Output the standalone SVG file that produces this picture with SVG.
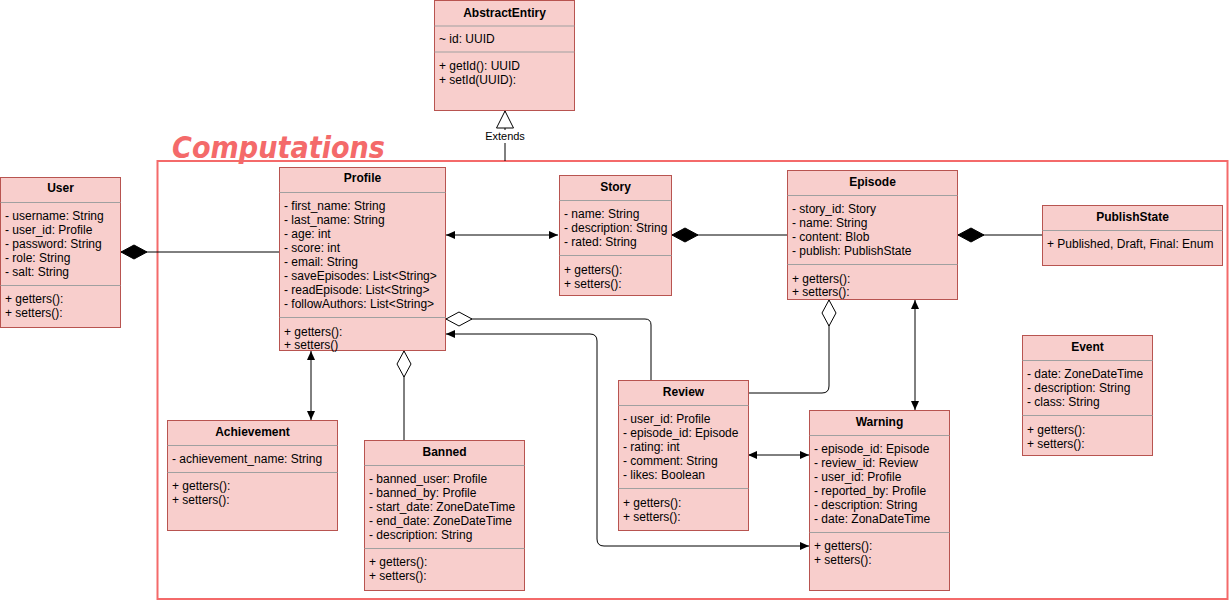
<svg xmlns="http://www.w3.org/2000/svg" width="1232" height="602" viewBox="0 0 1232 602">
<style>
.box{fill:#f8cecc;stroke:#b85450;stroke-width:1}
.sep{stroke:#a0a0a0;stroke-width:1}
text{font-family:"Liberation Sans",Arial,Helvetica,sans-serif;font-size:12px;fill:#000}
.h{font-weight:bold;text-anchor:middle}
.c{fill:none;stroke:#000;stroke-width:1}
.frame{fill:none;stroke:#f46a6a;stroke-width:2}
.title{font-family:"DejaVu Sans",sans-serif;font-size:30px;font-weight:bold;font-style:italic;fill:#f46a6a}
</style>
<defs>
<marker id="arr" viewBox="0 0 9 8" refX="9" refY="4" markerWidth="9" markerHeight="8" markerUnits="userSpaceOnUse" orient="auto-start-reverse"><path d="M0,0 L9,4 L0,8 z" fill="#000"/></marker>
<marker id="dFill" viewBox="-1 -1 28 16" refX="0" refY="7" markerWidth="28" markerHeight="16" markerUnits="userSpaceOnUse" orient="auto"><path d="M0,7 L13,0 L26,7 L13,14 z" fill="#000" stroke="#000"/></marker>
<marker id="dOpen" viewBox="-1 -1 28 16" refX="0" refY="7" markerWidth="28" markerHeight="16" markerUnits="userSpaceOnUse" orient="auto"><path d="M0,7 L13,0 L26,7 L13,14 z" fill="#fff" stroke="#000"/></marker>
<marker id="tri" viewBox="-1 -1 19 19" refX="17" refY="8.5" markerWidth="19" markerHeight="19" markerUnits="userSpaceOnUse" orient="auto"><path d="M0,0 L17,8.5 L0,17 z" fill="#fff" stroke="#000"/></marker>
</defs>

<g id="computations">
<rect class="frame" x="157.5" y="161" width="1070" height="438"/>
<text class="title" x="172" y="158" textLength="213" lengthAdjust="spacingAndGlyphs">Computations</text>
</g>

<g id="connectors">
<path class="c" d="M505,161 L505,111" marker-end="url(#tri)"/>
<rect x="483" y="130" width="44" height="13" fill="#fff"/>
<text x="505" y="140" text-anchor="middle" style="font-size:11px">Extends</text>
<path class="c" d="M121,252 L279,252" marker-start="url(#dFill)"/>
<path class="c" d="M446,235 L558,235" marker-start="url(#arr)" marker-end="url(#arr)"/>
<path class="c" d="M672,235 L787,235" marker-start="url(#dFill)"/>
<path class="c" d="M958,235 L1042,235" marker-start="url(#dFill)"/>
<path class="c" d="M446,319 L645,319 Q651,319 651,325 L651,380" marker-start="url(#dOpen)"/>
<path class="c" d="M446,334 L590,334 Q597,334 597,341 L597,539 Q597,546 604,546 L809,546" marker-start="url(#arr)" marker-end="url(#arr)"/>
<path class="c" d="M311,351 L311,420" marker-start="url(#arr)" marker-end="url(#arr)"/>
<path class="c" d="M404,351 L404,440" marker-start="url(#dOpen)"/>
<path class="c" d="M829,300 L829,386 Q829,393 822,393 L748,393" marker-start="url(#dOpen)"/>
<path class="c" d="M915,300 L915,410" marker-start="url(#arr)" marker-end="url(#arr)"/>
<path class="c" d="M748,455 L809,455" marker-start="url(#arr)" marker-end="url(#arr)"/>
</g>

<g id="AbstractEntiry">
<rect class="box" x="434.5" y="0.5" width="140" height="110"/>
<line class="sep" x1="434.5" y1="26" x2="574.5" y2="26"/>
<line class="sep" x1="434.5" y1="52" x2="574.5" y2="52"/>
<text class="h" x="504.5" y="17">AbstractEntiry</text>
<text x="439" y="43">~ id: UUID</text>
<text x="439" y="70">+ getId(): UUID</text>
<text x="439" y="84">+ setId(UUID):</text>
</g>

<g id="User">
<rect class="box" x="0.5" y="177.5" width="120" height="150"/>
<line class="sep" x1="0.5" y1="202.5" x2="120.5" y2="202.5"/>
<line class="sep" x1="0.5" y1="285.5" x2="120.5" y2="285.5"/>
<text class="h" x="60.5" y="192">User</text>
<text x="5" y="220">- username: String</text>
<text x="5" y="234">- user_id: Profile</text>
<text x="5" y="248">- password: String</text>
<text x="5" y="262">- role: String</text>
<text x="5" y="276">- salt: String</text>
<text x="5" y="303">+ getters():</text>
<text x="5" y="317">+ setters():</text>
</g>

<g id="Profile">
<rect class="box" x="279.5" y="167.5" width="166" height="183"/>
<line class="sep" x1="279.5" y1="192.5" x2="445.5" y2="192.5"/>
<line class="sep" x1="279.5" y1="317.5" x2="445.5" y2="317.5"/>
<text class="h" x="362.5" y="182">Profile</text>
<text x="284" y="210">- first_name: String</text>
<text x="284" y="224">- last_name: String</text>
<text x="284" y="238">- age: int</text>
<text x="284" y="252">- score: int</text>
<text x="284" y="266">- email: String</text>
<text x="284" y="280">- saveEpisodes: List&lt;String&gt;</text>
<text x="284" y="294">- readEpisode: List&lt;String&gt;</text>
<text x="284" y="308">- followAuthors: List&lt;String&gt;</text>
<text x="284" y="336">+ getters():</text>
<text x="284" y="348.5">+ setters()</text>
</g>

<g id="Story">
<rect class="box" x="559.5" y="175.5" width="112" height="120"/>
<line class="sep" x1="559.5" y1="200.5" x2="671.5" y2="200.5"/>
<line class="sep" x1="559.5" y1="255.5" x2="671.5" y2="255.5"/>
<text class="h" x="615.5" y="191">Story</text>
<text x="564" y="218">- name: String</text>
<text x="564" y="232">- description: String</text>
<text x="564" y="246">- rated: String</text>
<text x="564" y="273.5">+ getters():</text>
<text x="564" y="287.5">+ setters():</text>
</g>

<g id="Episode">
<rect class="box" x="787.5" y="170.5" width="170" height="129"/>
<line class="sep" x1="787.5" y1="195.5" x2="957.5" y2="195.5"/>
<line class="sep" x1="787.5" y1="264.5" x2="957.5" y2="264.5"/>
<text class="h" x="872.5" y="186">Episode</text>
<text x="792" y="212.5">- story_id: Story</text>
<text x="792" y="226.5">- name: String</text>
<text x="792" y="240.5">- content: Blob</text>
<text x="792" y="254.5">- publish: PublishState</text>
<text x="792" y="282.5">+ getters():</text>
<text x="792" y="296">+ setters():</text>
</g>

<g id="PublishState">
<rect class="box" x="1042.5" y="205.5" width="180" height="60"/>
<line class="sep" x1="1042.5" y1="230.5" x2="1222.5" y2="230.5"/>
<text class="h" x="1132.5" y="221">PublishState</text>
<text x="1047" y="248">+ Published, Draft, Final: Enum</text>
</g>

<g id="Achievement">
<rect class="box" x="167.5" y="420.5" width="170" height="110"/>
<line class="sep" x1="167.5" y1="445.5" x2="337.5" y2="445.5"/>
<line class="sep" x1="167.5" y1="472.5" x2="337.5" y2="472.5"/>
<text class="h" x="252.5" y="436">Achievement</text>
<text x="172" y="463">- achievement_name: String</text>
<text x="172" y="490">+ getters():</text>
<text x="172" y="504">+ setters():</text>
</g>

<g id="Banned">
<rect class="box" x="364.5" y="440.5" width="160" height="150"/>
<line class="sep" x1="364.5" y1="465.5" x2="524.5" y2="465.5"/>
<line class="sep" x1="364.5" y1="548.5" x2="524.5" y2="548.5"/>
<text class="h" x="444.5" y="455.5">Banned</text>
<text x="369" y="482.5">- banned_user: Profile</text>
<text x="369" y="496.5">- banned_by: Profile</text>
<text x="369" y="510.5">- start_date: ZoneDateTime</text>
<text x="369" y="524.5">- end_date: ZoneDateTime</text>
<text x="369" y="538.5">- description: String</text>
<text x="369" y="566">+ getters():</text>
<text x="369" y="580">+ setters():</text>
</g>

<g id="Review">
<rect class="box" x="618.5" y="380.5" width="130" height="150"/>
<line class="sep" x1="618.5" y1="405.5" x2="748.5" y2="405.5"/>
<line class="sep" x1="618.5" y1="488.5" x2="748.5" y2="488.5"/>
<text class="h" x="683.5" y="396">Review</text>
<text x="623" y="422.5">- user_id: Profile</text>
<text x="623" y="436.5">- episode_id: Episode</text>
<text x="623" y="450.5">- rating: int</text>
<text x="623" y="464.5">- comment: String</text>
<text x="623" y="478.5">- likes: Boolean</text>
<text x="623" y="507">+ getters():</text>
<text x="623" y="520.5">+ setters():</text>
</g>

<g id="Warning">
<rect class="box" x="809.5" y="410.5" width="140" height="180"/>
<line class="sep" x1="809.5" y1="435.5" x2="949.5" y2="435.5"/>
<line class="sep" x1="809.5" y1="532.5" x2="949.5" y2="532.5"/>
<text class="h" x="879.5" y="426">Warning</text>
<text x="814" y="452.5">- episode_id: Episode</text>
<text x="814" y="466.5">- review_id: Review</text>
<text x="814" y="480.5">- user_id: Profile</text>
<text x="814" y="494.5">- reported_by: Profile</text>
<text x="814" y="508.5">- description: String</text>
<text x="814" y="522.5">- date: ZonaDateTime</text>
<text x="814" y="550">+ getters():</text>
<text x="814" y="563.5">+ setters():</text>
</g>

<g id="Event">
<rect class="box" x="1022.5" y="335.5" width="130" height="120"/>
<line class="sep" x1="1022.5" y1="360.5" x2="1152.5" y2="360.5"/>
<line class="sep" x1="1022.5" y1="415.5" x2="1152.5" y2="415.5"/>
<text class="h" x="1087.5" y="351">Event</text>
<text x="1027" y="378">- date: ZoneDateTime</text>
<text x="1027" y="392">- description: String</text>
<text x="1027" y="406">- class: String</text>
<text x="1027" y="433.5">+ getters():</text>
<text x="1027" y="447.5">+ setters():</text>
</g>
</svg>
